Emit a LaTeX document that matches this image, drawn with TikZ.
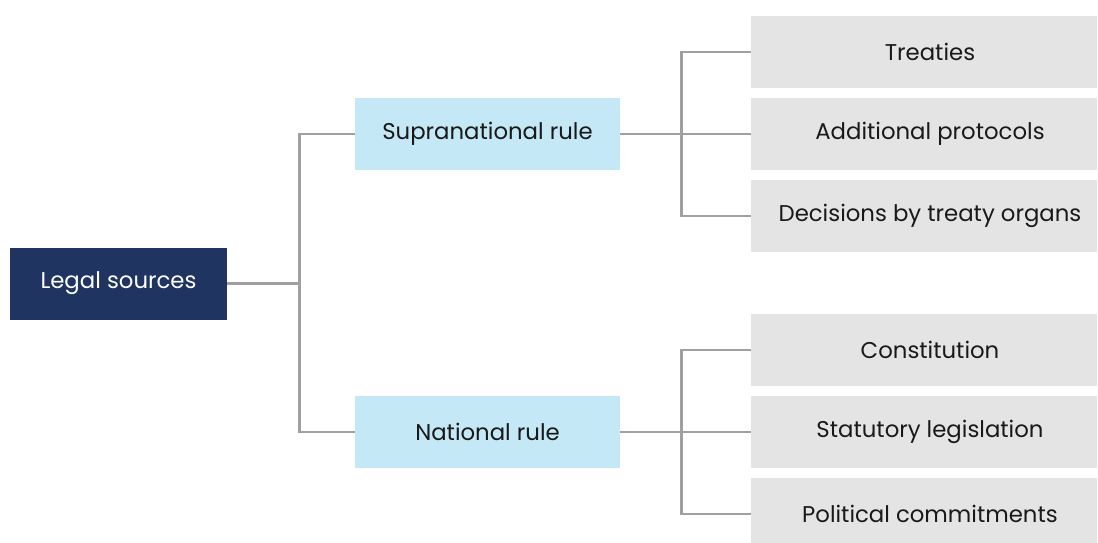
\documentclass[tikz,border=0pt]{standalone}
\usepackage{fontspec}
\setmainfont{Poppins}
\usepackage{tikz}
\definecolor{navy}{HTML}{1F3461}
\definecolor{paleblue}{HTML}{C4E8F6}
\definecolor{palegray}{HTML}{E4E4E4}
\definecolor{linegray}{HTML}{A0A0A0}
\begin{document}
\begin{tikzpicture}[x=0.5pt, y=-0.5pt, font=\fontsize{11.4}{13}\selectfont,
  main/.style = {inner sep=0pt, minimum height=36pt},
  root/.style = {main, fill=navy, text=white, minimum width=108.5pt},
  mid/.style = {main, fill=paleblue, text=black!90, minimum width=132.5pt},
  leaf/.style = {main, fill=palegray, text=black!90, minimum width=173pt,
    execute at begin node=\hspace*{6pt}},
  link/.style = {draw=linegray, line width=1.2pt}]
\useasboundingbox (0,0) rectangle (1098,542);
\node[root] (1) at (118.5,283.5) {Legal sources};
\node[mid] (2) at (487.5,134) {Supranational rule};
\node[mid] (3) at (487.5,432) {National rule};
\node[leaf] (4) at (924,52) {Treaties};
\node[leaf] (5) at (924,134) {Additional protocols};
\node[leaf] (6) at (924,216) {Decisions by treaty organs};
\node[leaf] (7) at (924,350) {Constitution};
\node[leaf] (8) at (924,432) {Statutory legislation};
\node[leaf] (9) at (924,514) {Political commitments};
\draw[link] (1.east) -- ++(72,0) |- (2.west);
\draw[link] (1.east) -- ++(72,0) |- (3.west);
\draw[link] (2.east) -- ++(61,0) |- (4.west);
\draw[link] (2.east) -- (5.west);
\draw[link] (2.east) -- ++(61,0) |- (6.west);
\draw[link] (3.east) -- ++(61,0) |- (7.west);
\draw[link] (3.east) -- (8.west);
\draw[link] (3.east) -- ++(61,0) |- (9.west);
\end{tikzpicture}
\end{document}
